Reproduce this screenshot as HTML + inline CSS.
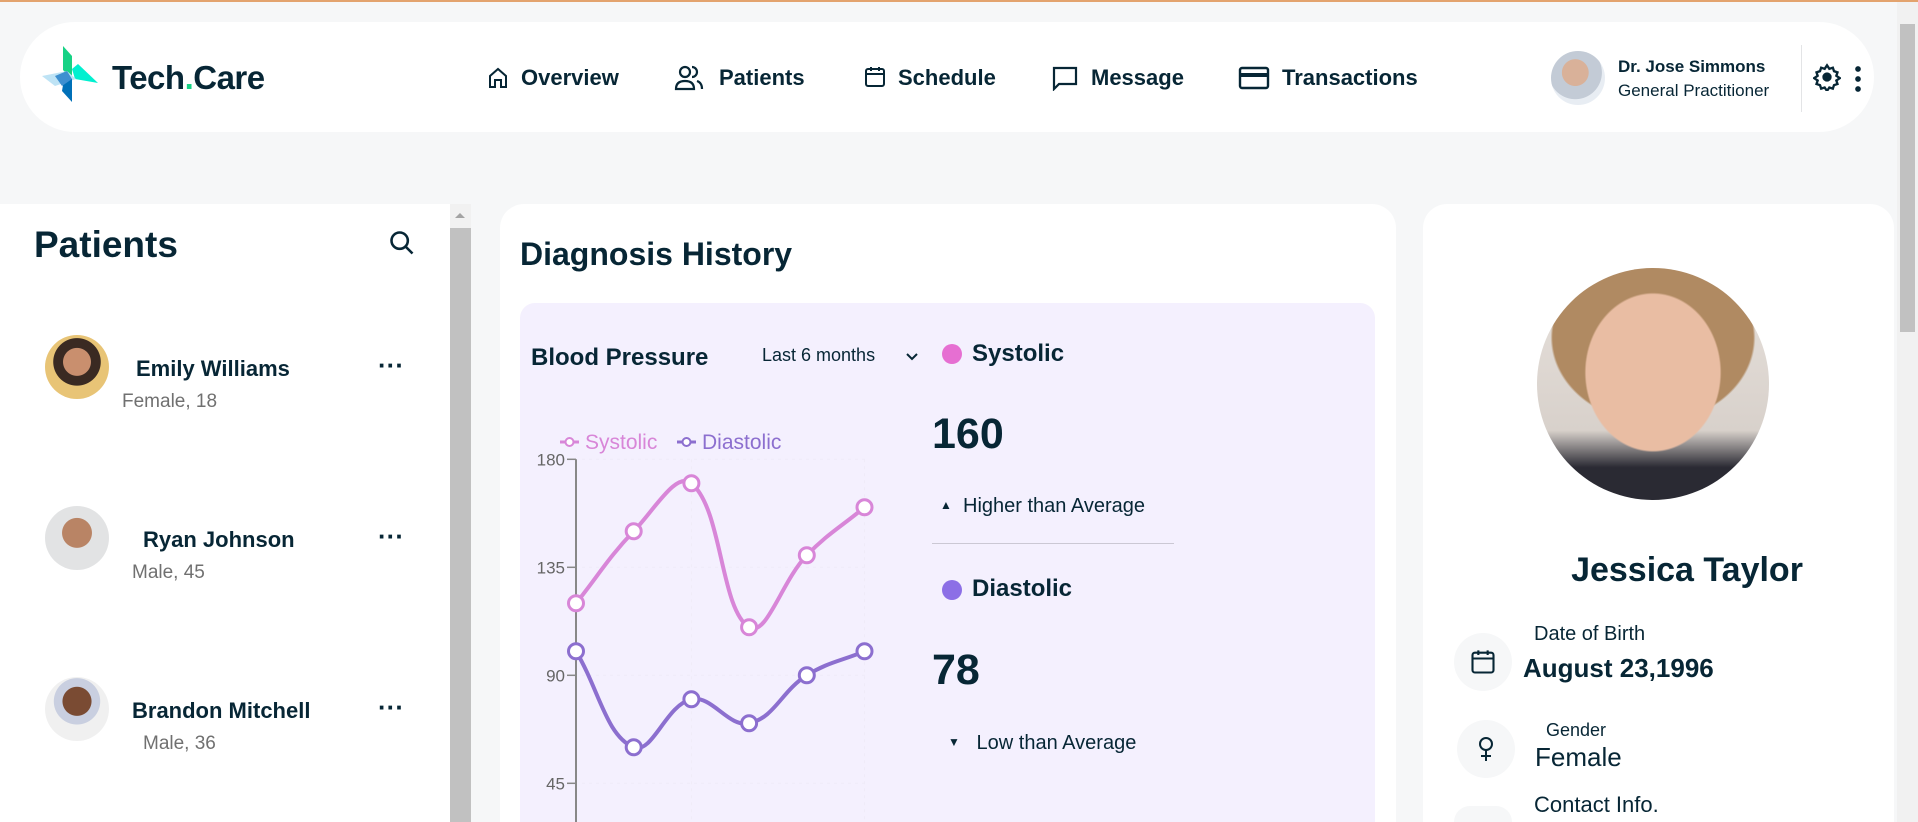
<!DOCTYPE html>
<html style="width:1918px;height:822px;overflow:hidden"><head><meta charset="utf-8"><style>
*{box-sizing:border-box;margin:0;padding:0}
body{width:1918px;height:822px;overflow:hidden;background:#f6f7f8;font-family:"Liberation Sans",sans-serif;color:#072635;position:relative}
.abs{position:absolute}
.b{font-weight:bold}
.av{position:absolute;border-radius:50%;overflow:hidden}
</style></head><body>
<div class="abs" style="left:0;top:0;width:1918px;height:2px;background:#e3a36e"></div>

<div class="abs" style="left:20px;top:22px;width:1854px;height:110px;background:#fff;border-radius:55px"></div>
<svg class="abs" style="left:42px;top:46px" width="58" height="58" viewBox="0 0 58 58">
<polygon points="21,0 21,24 30,33 30,10" fill="#17d285"/><polygon points="30,23 36,18 56,37 33,33" fill="#01f0d0"/><polygon points="0,30 25,25 34,33 13,40" fill="#bee3f5"/><polygon points="22,33 30,33 30,56 20,45" fill="#0070b8"/><polygon points="13,30 25,25 30,33 20,40" fill="#3d8fd0"/></svg>
<div class="abs b" style="left:112px;top:59px;font-size:33px;letter-spacing:-0.5px">Tech<span style="color:#17d285">.</span>Care</div>

<div>
<svg class="abs" style="left:486px;top:66px" width="24" height="24" viewBox="0 0 24 24" fill="none" stroke="#072635" stroke-width="2"><path d="M4 21V10l8-7 8 7v11h-5v-7H9v7z"/></svg>
<div class="abs b" style="left:521px;top:65px;font-size:22px">Overview</div>
<svg class="abs" style="left:673px;top:64px" width="32" height="28" viewBox="0 0 32 28" fill="none" stroke="#072635" stroke-width="2.2"><circle cx="12" cy="8" r="5"/><path d="M3 25c0-6 4-8 9-8s9 2 9 8z"/><path d="M19 3a5 5 0 0 1 0 10M24 17c3 1 5 3 5 8"/></svg>
<div class="abs b" style="left:719px;top:65px;font-size:22px">Patients</div>
<svg class="abs" style="left:863px;top:65px" width="24" height="24" viewBox="0 0 24 24" fill="none" stroke="#072635" stroke-width="2"><rect x="3" y="4" width="18" height="17" rx="2"/><path d="M3 9h18M8 2v4M16 2v4"/></svg>
<div class="abs b" style="left:898px;top:65px;font-size:22px">Schedule</div>
<svg class="abs" style="left:1051px;top:65px" width="28" height="26" viewBox="0 0 28 26" fill="none" stroke="#072635" stroke-width="2.2"><path d="M3 3h22v16H8l-5 5z"/></svg>
<div class="abs b" style="left:1091px;top:65px;font-size:22px">Message</div>
<svg class="abs" style="left:1238px;top:66px" width="32" height="24" viewBox="0 0 32 24" fill="none" stroke="#072635" stroke-width="2.4"><rect x="2" y="2" width="28" height="20" rx="2"/><path d="M2 9h28" stroke-width="4"/></svg>
<div class="abs b" style="left:1282px;top:65px;font-size:22px">Transactions</div>
</div>

<div class="av" style="left:1551px;top:51px;width:54px;height:54px;background:radial-gradient(circle at 45% 40%,#d9b199 0 30%,#c3cbd6 31% 60%,#e8edf3 61%)"></div>
<div class="abs b" style="left:1618px;top:57px;font-size:17px">Dr. Jose Simmons</div>
<div class="abs" style="left:1618px;top:81px;font-size:17px">General Practitioner</div>
<div class="abs" style="left:1801px;top:45px;width:1px;height:67px;background:#e3e4e6"></div>
<svg class="abs" style="left:1813px;top:63px" width="28" height="28" viewBox="0 0 24 24" fill="none" stroke="#072635" stroke-width="2"><circle cx="12" cy="12" r="3" fill="#072635"/><path d="M12 2l2 3 3-1 1 3 3 1-1 3 3 2-3 2 1 3-3 1-1 3-3-1-2 3-2-3-3 1-1-3-3-1 1-3-3-2 3-2-1-3 3-1 1-3 3 1z"/></svg>
<div class="abs" style="left:1855px;top:64px;width:6px;height:28px;background:radial-gradient(circle,#072635 2.6px,transparent 3px) 0 0/6px 10px repeat-y"></div>

<div class="abs" style="left:1897px;top:2px;width:21px;height:820px;background:#f1f1f1">
<div style="position:absolute;left:3px;top:22px;width:15px;height:308px;background:#c1c1c1"></div></div>

<!-- Patients panel -->
<div class="abs" style="left:0;top:204px;width:471px;height:618px;background:#fff;border-radius:0 16px 0 0"></div>
<div class="abs b" style="left:34px;top:224px;font-size:37px">Patients</div>
<svg class="abs" style="left:388px;top:229px" width="28" height="28" viewBox="0 0 24 24" fill="none" stroke="#072635" stroke-width="2.2"><circle cx="10" cy="10" r="7"/><path d="M15 15l6 6"/></svg>
<div class="abs" style="left:450px;top:204px;width:21px;height:618px;background:#f1f1f1">
<div style="position:absolute;left:0;top:24px;width:21px;height:594px;background:#c1c1c1"></div>
<div style="position:absolute;left:5px;top:9px;border:5px solid transparent;border-bottom:5px solid #a3a3a3;border-top:0"></div></div>

<div class="av" style="left:45px;top:335px;width:64px;height:64px;background:radial-gradient(circle at 50% 42%,#c98f6e 0 28%,#3a2a22 29% 48%,#e8c476 49%)"></div>
<div class="abs b" style="left:136px;top:356px;font-size:22px">Emily Williams</div>
<div class="abs" style="left:122px;top:391px;font-size:19px;color:#707070">Female, 18</div>
<div class="abs b" style="left:378px;top:350px;font-size:26px">···</div>

<div class="av" style="left:45px;top:506px;width:64px;height:64px;background:radial-gradient(circle at 50% 42%,#b98465 0 30%,#e2e3e4 31%)"></div>
<div class="abs b" style="left:143px;top:527px;font-size:22px">Ryan Johnson</div>
<div class="abs" style="left:132px;top:562px;font-size:19px;color:#707070">Male, 45</div>
<div class="abs b" style="left:378px;top:521px;font-size:26px">···</div>

<div class="av" style="left:45px;top:677px;width:64px;height:64px;background:radial-gradient(circle at 50% 38%,#7a4b33 0 28%,#c9cfe0 29% 45%,#f0f0f0 46%)"></div>
<div class="abs b" style="left:132px;top:698px;font-size:22px">Brandon Mitchell</div>
<div class="abs" style="left:143px;top:733px;font-size:19px;color:#707070">Male, 36</div>
<div class="abs b" style="left:378px;top:692px;font-size:26px">···</div>

<!-- Diagnosis panel -->
<div class="abs" style="left:500px;top:204px;width:896px;height:618px;background:#fff;border-radius:24px 24px 0 0"></div>
<div class="abs b" style="left:520px;top:236px;font-size:32px">Diagnosis History</div>
<div class="abs" style="left:520px;top:303px;width:855px;height:519px;background:#f4f0fe;border-radius:15px 15px 0 0"></div>
<div class="abs b" style="left:531px;top:344px;font-size:24px">Blood Pressure</div>
<div class="abs" style="left:762px;top:345px;font-size:18px">Last 6 months</div>
<svg class="abs" style="left:904px;top:349px" width="16" height="16" viewBox="0 0 16 16" fill="none" stroke="#072635" stroke-width="2"><path d="M3 5l5 5 5-5"/></svg>

<div class="abs" style="left:942px;top:344px;width:20px;height:20px;border-radius:50%;background:#e66fd2"></div>
<div class="abs b" style="left:972px;top:340px;font-size:24px">Systolic</div>
<div class="abs b" style="left:932px;top:410px;font-size:43px">160</div>
<div class="abs" style="left:940px;top:495px;font-size:20px"><span style="font-size:12px;vertical-align:3px">▲</span>&nbsp; Higher than Average</div>
<div class="abs" style="left:932px;top:543px;width:242px;height:1px;background:#cbc8d4"></div>
<div class="abs" style="left:942px;top:580px;width:20px;height:20px;border-radius:50%;background:#8c6fe6"></div>
<div class="abs b" style="left:972px;top:575px;font-size:24px">Diastolic</div>
<div class="abs b" style="left:932px;top:646px;font-size:43px">78</div>
<div class="abs" style="left:948px;top:732px;font-size:20px"><span style="font-size:12px;vertical-align:3px">▼</span>&nbsp;&nbsp; Low than Average</div>

<svg class="abs" id="chart" style="left:0;top:0" width="1918" height="822"></svg>

<!-- Right panel -->
<div class="abs" style="left:1423px;top:204px;width:471px;height:618px;background:#fff;border-radius:24px 24px 0 0"></div>
<div class="av" style="left:1537px;top:268px;width:232px;height:232px;background:radial-gradient(ellipse 36% 42% at 50% 45%,#e9bda3 0 80%,transparent 82%),radial-gradient(ellipse 48% 40% at 50% 30%,#b08a62 0 90%,transparent 92%),linear-gradient(#e7e1dc,#d8d1cb 70%,#2a2a33 86%)"></div>
<div class="abs b" style="left:1423px;width:528px;text-align:center;top:551px;font-size:34px">Jessica Taylor</div>

<div class="abs" style="left:1454px;top:633px;width:58px;height:58px;border-radius:50%;background:#f6f7f8"></div>
<svg class="abs" style="left:1469px;top:648px" width="28" height="28" viewBox="0 0 24 24" fill="none" stroke="#072635" stroke-width="1.8"><rect x="3" y="4" width="18" height="17" rx="2"/><path d="M3 9h18M8 2v4M16 2v4"/></svg>
<div class="abs" style="left:1534px;top:623px;font-size:20px">Date of Birth</div>
<div class="abs" style="left:1523px;top:653px;font-size:26px;font-weight:600">August 23,1996</div>

<div class="abs" style="left:1457px;top:720px;width:58px;height:58px;border-radius:50%;background:#f6f7f8"></div>
<svg class="abs" style="left:1474px;top:735px" width="24" height="28" viewBox="0 0 24 28" fill="none" stroke="#072635" stroke-width="2"><circle cx="12" cy="9" r="6"/><path d="M12 15v11M7 21h10"/></svg>
<div class="abs" style="left:1546px;top:720px;font-size:18px">Gender</div>
<div class="abs" style="left:1535px;top:742px;font-size:26px">Female</div>
<div class="abs" style="left:1454px;top:806px;width:58px;height:16px;border-radius:29px 29px 0 0;background:#f6f7f8"></div>
<div class="abs" style="left:1534px;top:792px;font-size:22px;line-height:26px">Contact Info.</div>

<script>
const months = ["Oct","Nov","Dec","Jan","Feb","Mar"];
const systolic = [120,150,170,110,140,160];
const diastolic = [100,60,80,70,90,100];
const yTicks = [45,90,135,180];
const NS="http://www.w3.org/2000/svg";
const svg=document.getElementById('chart');
function x(i){return 576+i*57.7;}
function y(v){return 459.3+(180-v)*2.4;}
function mk(t,a){const e=document.createElementNS(NS,t);for(const k in a)e.setAttribute(k,a[k]);svg.appendChild(e);return e;}
[2,5].forEach(i=>{const g=mk('line',{x1:x(i),x2:x(i),y1:y(180),y2:822,stroke:'#efebf8','stroke-dasharray':'3 4'});

});
yTicks.forEach(t=>{const g=mk('line',{x1:582,x2:866,y1:y(t),y2:y(t),stroke:'#efebf8','stroke-dasharray':'3 4'});


const tk=mk('line',{x1:567,x2:576,y1:y(t),y2:y(t),stroke:'#888','stroke-width':1.5});


const tx=mk('text',{x:565,y:y(t)+6,'text-anchor':'end','font-size':17,fill:'#666','font-family':'Liberation Sans'});
tx.textContent=t;

});
const ax=mk('line',{x1:576,x2:576,y1:y(180),y2:822,stroke:'#888','stroke-width':2});


function path(vals){
  const p=vals.map((v,i)=>[x(i),y(v)]);const t=0.4;let d='M'+p[0][0]+','+p[0][1];
  const cp=p.map((c,i)=>{const a=p[Math.max(0,i-1)],b=p[Math.min(p.length-1,i+1)];
    const d01=Math.hypot(c[0]-a[0],c[1]-a[1]),d12=Math.hypot(b[0]-c[0],b[1]-c[1]);
    const fa=t*d01/(d01+d12||1),fb=t*d12/(d01+d12||1);
    return [[c[0]-fa*(b[0]-a[0]),c[1]-fa*(b[1]-a[1])],[c[0]+fb*(b[0]-a[0]),c[1]+fb*(b[1]-a[1])]];});
  for(let i=1;i<p.length;i++)d+=` C${cp[i-1][1][0]},${cp[i-1][1][1]} ${cp[i][0][0]},${cp[i][0][1]} ${p[i][0]},${p[i][1]}`;
  return d;}
[[systolic,'#d886d8','systolic'],[diastolic,'#8c6fcf','diastolic']].forEach(([vals,col,n])=>{
  const l=mk('path',{d:path(vals),fill:'none',stroke:col,'stroke-width':4});
  
  
  vals.forEach((v,i)=>{const c=mk('circle',{cx:x(i),cy:y(v),r:7.5,fill:'#fff',stroke:col,'stroke-width':3});
  
  });
});
[[560,'#d886d8','Systolic','legend-systolic'],[677,'#8c6fcf','Diastolic','legend-diastolic']].forEach(([lx,col,lab,n])=>{
  const g=mk('line',{x1:lx,x2:lx+19,y1:442,y2:442,stroke:col,'stroke-width':3});
  
  
  const c=mk('circle',{cx:lx+9.5,cy:442,r:4,fill:'#fff',stroke:col,'stroke-width':2});
  
  
  const t=mk('text',{x:lx+25,y:449,'font-size':21,fill:col,'font-family':'Liberation Sans'});
  t.textContent=lab;
  
  
});
</script>
</body></html>
